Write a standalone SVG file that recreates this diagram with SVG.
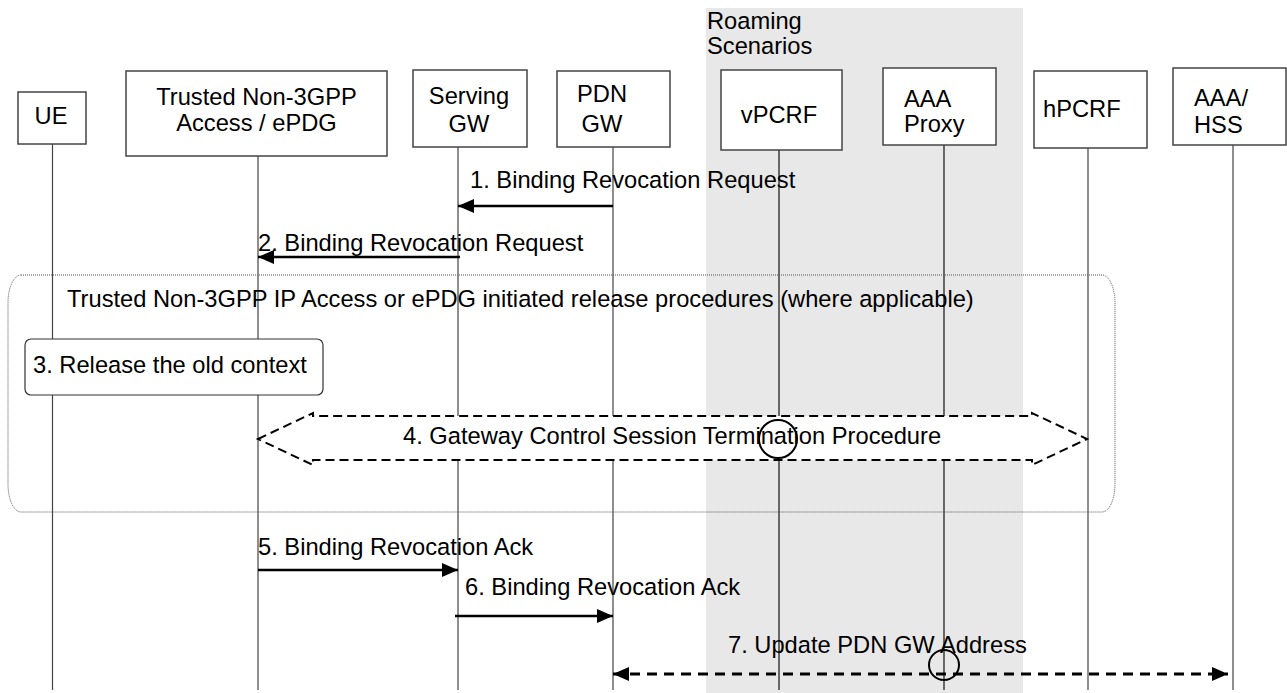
<svg xmlns="http://www.w3.org/2000/svg" width="1287" height="693" viewBox="0 0 1287 693">
<style>
text{font-family:"Liberation Sans",Arial,sans-serif;font-size:23.7px;fill:#000}
.box{fill:#fff;stroke:#444;stroke-width:1.5}
.life{stroke:#444;stroke-width:1.2;fill:none}
.dark{stroke:#111}
.msg{stroke:#000;stroke-width:2.5;fill:none}
.dash7{stroke:#000;stroke-width:3;fill:none;stroke-dasharray:10 7}
.hollow{fill:#fff;stroke:#000;stroke-width:2;stroke-dasharray:9 5}
.frame{fill:none;stroke:#555;stroke-width:1;stroke-dasharray:1 1}
.ring{fill:none;stroke:#000;stroke-width:2}
</style>
<defs>
<marker id="ah" viewBox="0 0 16 14" refX="16" refY="7" markerWidth="16" markerHeight="14" markerUnits="userSpaceOnUse" orient="auto-start-reverse"><path d="M0,0 L16,7 L0,14 Z" fill="#000"/></marker>
</defs>
<rect x="0" y="0" width="1287" height="693" fill="#fff"/>
<g id="roaming">
<rect x="706" y="8" width="317" height="685" fill="#e8e8e8"/>
<text x="707" y="29">Roaming</text>
<text x="707" y="54">Scenarios</text>
</g>
<g id="lifelines">
<line class="life" x1="52.5" y1="144" x2="52.5" y2="690"/>
<line class="life" x1="258" y1="156" x2="258" y2="690"/>
<line class="life" x1="458" y1="147" x2="458" y2="690"/>
<line class="life" x1="613" y1="147" x2="613" y2="690"/>
<line class="life dark" x1="779" y1="150" x2="779" y2="690"/>
<line class="life dark" x1="944" y1="145" x2="944" y2="690"/>
<line class="life" x1="1088" y1="148" x2="1088" y2="690"/>
<line class="life" x1="1233" y1="145" x2="1233" y2="690"/>
</g>
<g id="ue"><rect class="box" x="18" y="92" width="68" height="52"/><text x="51" y="124" text-anchor="middle">UE</text></g>
<g id="tna"><rect class="box" x="126" y="71" width="261" height="85"/><text x="256.5" y="105" text-anchor="middle">Trusted Non-3GPP</text><text x="256.5" y="131" text-anchor="middle">Access / ePDG</text></g>
<g id="sgw"><rect class="box" x="413" y="70" width="114" height="77"/><text x="469" y="104" text-anchor="middle">Serving</text><text x="469" y="132" text-anchor="middle">GW</text></g>
<g id="pgw"><rect class="box" x="557" y="71" width="113" height="76"/><text x="602" y="102" text-anchor="middle">PDN</text><text x="602" y="132" text-anchor="middle">GW</text></g>
<g id="vpcrf"><rect class="box" x="721" y="70" width="121" height="80"/><text x="779" y="123" text-anchor="middle">vPCRF</text></g>
<g id="aaaproxy"><rect class="box" x="883" y="68" width="113" height="77"/><text x="904" y="107">AAA</text><text x="904" y="132">Proxy</text></g>
<g id="hpcrf"><rect class="box" x="1034" y="71" width="113" height="77"/><text x="1043" y="117">hPCRF</text></g>
<g id="aaahss"><rect class="box" x="1173" y="68" width="113" height="77"/><text x="1194" y="106">AAA/</text><text x="1194" y="133">HSS</text></g>
<g id="frame">
<rect class="frame" x="8" y="275" width="1107" height="237" rx="13" ry="28"/>
<text x="67" y="307">Trusted Non-3GPP IP Access or ePDG initiated release procedures (where applicable)</text>
</g>
<g id="step3"><rect x="25" y="339" width="298" height="56" rx="6" fill="#fff" stroke="#333" stroke-width="1.2"/><text x="33" y="373">3. Release the old context</text></g>
<g id="connectors">
<line class="msg" x1="613" y1="206" x2="458" y2="206" marker-end="url(#ah)"/>
<line class="msg" x1="460" y1="257" x2="258" y2="257" marker-end="url(#ah)"/>
<polygon class="hollow" points="258,439 313,413 313,416 1032,416 1032,413 1087,439 1032,465 1032,460 313,460 313,465"/>
<line class="msg" x1="258" y1="570" x2="458" y2="570" marker-end="url(#ah)"/>
<line class="msg" x1="455" y1="616" x2="613" y2="616" marker-end="url(#ah)"/>
<line class="dash7" x1="613" y1="674" x2="1228" y2="674" marker-start="url(#ah)" marker-end="url(#ah)"/>
</g>
<g id="labels">
<text x="470" y="188">1. Binding Revocation Request</text>
<text x="258" y="251">2. Binding Revocation Request</text>
<text x="403" y="444">4. Gateway Control Session Termination Procedure</text>
<text x="258" y="555">5. Binding Revocation Ack</text>
<text x="465" y="595">6. Binding Revocation Ack</text>
<text x="728" y="653">7. Update PDN GW Address</text>
<circle class="ring" cx="778" cy="439" r="19"/>
<circle class="ring" cx="944" cy="665" r="15"/>
</g>
</svg>
